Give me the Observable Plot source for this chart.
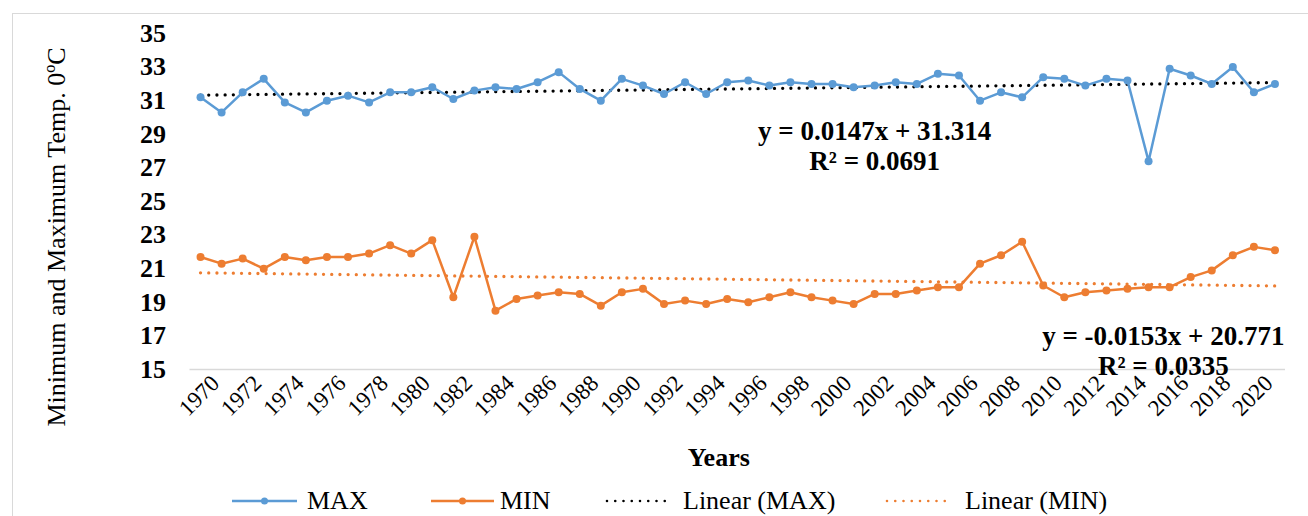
<!DOCTYPE html>
<html><head><meta charset="utf-8">
<script src="https://cdn.jsdelivr.net/npm/d3@7"></script>
<script src="https://cdn.jsdelivr.net/npm/@observablehq/plot@0.6"></script>
<style>
body{margin:0;background:#fff;font-family:"Liberation Serif","Times New Roman",serif;}
#wrap{position:relative;width:1308px;height:516px;overflow:hidden;background:#fff;}
#frame{position:absolute;left:12px;top:13px;width:1400px;height:600px;border:1px solid #d9d9d9;}
#chart{position:absolute;left:0;top:0;}
#legend{position:absolute;left:0;top:486px;width:1308px;height:30px;font-size:26px;color:#000;}
.item{position:absolute;top:0;height:30px;display:flex;align-items:center;white-space:nowrap;}
.item svg{display:block;}
</style></head><body>
<div id="wrap"><div id="frame"></div><div id="chart"></div><div id="legend"></div></div>
<script>
const years = [1970,1971,1972,1973,1974,1975,1976,1977,1978,1979,1980,1981,1982,1983,1984,1985,1986,1987,1988,1989,1990,1991,1992,1993,1994,1995,1996,1997,1998,1999,2000,2001,2002,2003,2004,2005,2006,2007,2008,2009,2010,2011,2012,2013,2014,2015,2016,2017,2018,2019,2020,2021];
const maxTemp = [31.2,30.3,31.5,32.3,30.9,30.3,31.0,31.3,30.9,31.5,
                 31.5,31.8,31.1,31.6,31.8,31.7,32.1,32.7,31.7,31.0,
                 32.3,31.9,31.4,32.1,31.4,32.1,32.2,31.9,32.1,32.0,
                 32.0,31.8,31.9,32.1,32.0,32.6,32.5,31.0,31.5,31.2,
                 32.4,32.3,31.9,32.3,32.2,27.4,32.9,32.5,32.0,33.0,
                 31.5,32.0];
const minTemp = [21.7,21.3,21.6,21.0,21.7,21.5,21.7,21.7,21.9,22.4,
                 21.9,22.7,19.3,22.9,18.5,19.2,19.4,19.6,19.5,18.8,
                 19.6,19.8,18.9,19.1,18.9,19.2,19.0,19.3,19.6,19.3,
                 19.1,18.9,19.5,19.5,19.7,19.9,19.9,21.3,21.8,22.6,
                 20.0,19.3,19.6,19.7,19.8,19.9,19.9,20.5,20.9,21.8,
                 22.3,22.1];
const xTicks = [1970,1972,1974,1976,1978,1980,1982,1984,1986,1988,1990,1992,1994,1996,1998,2000,2002,2004,2006,2008,2010,2012,2014,2016,2018,2020];
const yTicks = [15,17,19,21,23,25,27,29,31,33,35];
const seriesNames = ["MAX","MIN","Linear (MAX)","Linear (MIN)"];
const eqMax = ["y = 0.0147x + 31.314","R² = 0.0691"];
const eqMin = ["y = -0.0153x + 20.771","R² = 0.0335"];
const yTitle = "Minimum and Maximum Temp. 0ºC";
const xTitle = "Years";

const BLUE = "#5B9BD5", ORANGE = "#ED7D31";
const FONT = '"Liberation Serif","Times New Roman",serif';
const data = years.map((yr, i) => ({year: yr, max: maxTemp[i], min: minTemp[i]}));

const chart = Plot.plot({
  width: 1308, height: 486,
  marginTop: 33, marginBottom: 117, marginLeft: 189.5, marginRight: 23,
  style: {fontFamily: FONT, fontSize: "23px", background: "transparent", color: "#000", overflow: "visible"},
  x: {domain: [1969.5, 2021.5], label: null},
  y: {domain: [15, 35], label: null},
  marks: [
    Plot.ruleY([15], {stroke: "#d9d9d9", strokeWidth: 1.5}),
    Plot.axisY({ticks: yTicks, tickSize: 0, tickPadding: 24, fontWeight: "bold", fontSize: 26, label: null}),
    Plot.axisX({ticks: xTicks, tickSize: 0, tickPadding: 10, dx: 15, tickRotate: -45, tickFormat: d => String(d), fontSize: 23, label: null}),
    Plot.linearRegressionY(data, {x: "year", y: "max", ci: 0, stroke: "#000", strokeWidth: 3.3, strokeDasharray: "0,8.2", strokeLinecap: "round"}),
    Plot.linearRegressionY(data, {x: "year", y: "min", ci: 0, stroke: ORANGE, strokeWidth: 3.3, strokeDasharray: "0,8.2", strokeLinecap: "round"}),
    Plot.line(data, {x: "year", y: "max", stroke: BLUE, strokeWidth: 2.5}),
    Plot.dot(data, {x: "year", y: "max", fill: BLUE, r: 4}),
    Plot.line(data, {x: "year", y: "min", stroke: ORANGE, strokeWidth: 2.5}),
    Plot.dot(data, {x: "year", y: "min", fill: ORANGE, r: 4}),
    Plot.text([eqMax.join("\n")], {x: 2002.0, y: 28.36, text: d => d, fontWeight: "bold", fontSize: 27, lineHeight: 1.12, textAnchor: "middle"}),
    Plot.text([eqMin.join("\n")], {x: 2015.7, y: 16.16, text: d => d, fontWeight: "bold", fontSize: 27, lineHeight: 1.12, textAnchor: "middle"}),
    Plot.text([yTitle], {frameAnchor: "left", rotate: -90, dx: -133.5, dy: 35.5, text: d => d, fontSize: 26, textAnchor: "middle"}),
    Plot.text([xTitle], {frameAnchor: "bottom", dx: -19, dy: 96, text: d => d, fontSize: 26, fontWeight: "bold", textAnchor: "middle"})
  ]
});
document.getElementById("chart").appendChild(chart);

// legend
const legend = document.getElementById("legend");
const legendSpecs = [
  {name: seriesNames[0], left: 232, w: 65, gap: 10, color: BLUE, type: "line"},
  {name: seriesNames[1], left: 431, w: 63, gap: 6, color: ORANGE, type: "line"},
  {name: seriesNames[2], left: 605, w: 70, gap: 8, color: "#000", type: "dot"},
  {name: seriesNames[3], left: 885, w: 70, gap: 10, color: ORANGE, type: "dot"}
];
for (const s of legendSpecs) {
  const div = document.createElement("div");
  div.className = "item";
  div.style.left = s.left + "px";
  const w = s.w;
  let sym;
  if (s.type === "line") {
    sym = `<svg width="${w}" height="12" style="margin-right:${s.gap}px"><line x1="0" x2="${w}" y1="6" y2="6" stroke="${s.color}" stroke-width="2.5"/><circle cx="${w/2}" cy="6" r="3.5" fill="${s.color}"/></svg>`;
  } else {
    sym = `<svg width="${w}" height="12" style="margin-right:${s.gap}px"><line x1="2" x2="${w-2}" y1="6" y2="6" stroke="${s.color}" stroke-width="2.6" stroke-dasharray="0,8.25" stroke-linecap="round"/></svg>`;
  }
  div.innerHTML = sym + `<span>${s.name}</span>`;
  legend.appendChild(div);
}
</script>
</body></html>
